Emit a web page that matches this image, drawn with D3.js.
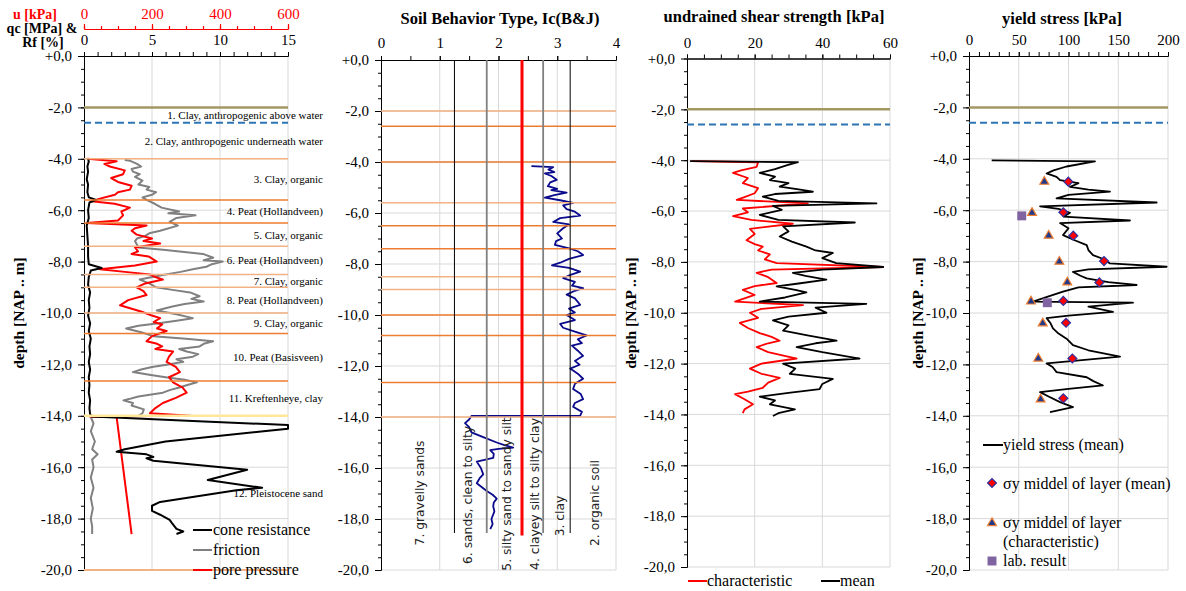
<!DOCTYPE html>
<html>
<head>
<meta charset="utf-8">
<script src="https://cdn.jsdelivr.net/npm/d3@7"></script>
<style>
  body { margin: 0; background: #fff; }
</style>
</head>
<body>
<svg id="chart" width="1186" height="591"></svg>
<script>
// ---- data (depth in m below NAP, value) ----
const layerBounds = [2.0, 2.6, 4.0, 5.6, 6.5, 7.4, 8.5, 9.0, 10.0, 10.8, 12.65, 14.0, 20.0];
const layerNames = [
  "1. Clay, anthropogenic above water",
  "2. Clay, anthropogenic  underneath water",
  "3. Clay, organic",
  "4. Peat (Hollandveen)",
  "5. Clay, organic",
  "6. Peat (Hollandveen)",
  "7. Clay, organic",
  "8. Peat (Hollandveen)",
  "9. Clay, organic",
  "10. Peat (Basisveen)",
  "11. Kreftenheye, clay",
  "12. Pleistocene sand"
];

// cone resistance qc [MPa]
const qcData = [[4.0,0.3],[4.1,0.35],[4.3,0.25],[4.5,0.3],[4.8,0.2],[5.0,0.3],[5.3,0.25],[5.5,0.35],[5.6,0.9],[5.7,0.4],
  [6.0,0.3],[6.3,0.35],[6.6,0.2],[7.0,0.25],[7.4,0.3],[7.8,0.3],[8.1,0.35],[8.25,1.3],[8.35,0.5],[8.6,0.35],[8.9,0.3],
  [9.2,0.45],[9.5,0.35],[9.8,0.4],[10.1,0.3],[10.4,0.45],[10.7,0.35],[11.0,0.5],[11.3,0.4],[11.6,0.45],[11.9,0.35],
  [12.2,0.45],[12.5,0.35],[12.8,0.4],[13.1,0.35],[13.4,0.45],[13.7,0.4],[13.95,0.45],[14.03,0.6],[14.2,8.0],[14.36,15],
  [14.5,15],[14.6,13.2],[15.0,6.0],[15.3,3.0],[15.4,2.4],[15.5,4.6],[15.6,5.1],[15.65,4.6],[15.75,5.1],[16.1,12.0],
  [16.5,9.1],[16.8,13.1],[16.9,11.2],[17.35,5.6],[17.5,5.0],[17.7,5.0],[17.85,5.6],[18.05,6.3],[18.2,6.5],[18.4,6.8],
  [18.5,7.3],[18.6,6.8]];

// friction ratio Rf [%]
const rfData = [[4.05,3.0],[4.08,3.4],[4.2,3.9],[4.3,4.2],[4.4,3.5],[4.5,3.6],[4.6,4.1],[4.7,3.75],[4.85,4.3],[5.0,4.0],
  [5.1,4.8],[5.2,4.6],[5.3,5.3],[5.4,5.0],[5.5,4.3],[5.6,4.6],[5.75,5.2],[5.9,5.7],[6.05,7.0],[6.12,6.2],[6.2,8.2],
  [6.3,6.8],[6.45,6.3],[6.6,6.9],[6.8,5.6],[6.9,4.8],[7.0,4.5],[7.1,3.9],[7.2,3.75],[7.45,4.0],[7.55,6.0],[7.7,8.75],
  [7.85,9.5],[7.95,8.8],[8.0,10.2],[8.1,9.4],[8.2,9.0],[8.3,8.0],[8.4,7.1],[8.55,5.5],[8.7,4.1],[8.85,4.8],[9.0,5.3],
  [9.1,6.5],[9.2,7.8],[9.35,8.5],[9.45,7.9],[9.55,8.8],[9.65,7.4],[9.75,6.5],[9.9,5.35],[10.05,6.8],[10.2,8.0],
  [10.3,6.8],[10.4,5.5],[10.5,4.0],[10.6,3.1],[10.75,4.2],[10.9,5.1],[11.0,7.5],[11.1,9.5],[11.2,8.8],[11.3,8.5],
  [11.4,7.0],[11.5,7.55],[11.6,8.4],[11.7,8.0],[11.8,6.8],[11.9,7.3],[12.0,6.2],[12.1,5.0],[12.2,4.2],[12.3,3.6],
  [12.4,4.8],[12.5,6.0],[12.6,7.4],[12.7,8.3],[12.8,7.6],[12.9,7.0],[13.0,6.3],[13.1,5.8],[13.2,4.6],[13.25,4.0],
  [13.35,3.3],[13.4,2.9],[13.5,3.6],[13.6,3.5],[13.75,4.4],[13.9,4.3],[14.0,4.0],[14.05,0.5],[14.3,0.7],[14.6,0.5],
  [15.0,0.8],[15.3,0.6],[15.5,1.0],[15.7,0.6],[16.0,0.7],[16.4,0.5],[16.8,0.7],[17.2,0.5],[17.6,0.65],[18.0,0.5],
  [18.3,0.6],[18.6,0.6]];

// pore pressure u [kPa]
const uData = [[4.0,10],[4.1,96],[4.2,60],[4.3,76],[4.45,120],[4.6,115],[4.75,80],[4.9,100],[5.05,140],[5.2,135],[5.3,100],
  [5.4,91],[5.55,47],[5.65,23],[5.75,90],[5.9,135],[6.05,110],[6.2,115],[6.4,100],[6.5,8],[6.6,184],[6.7,150],[6.8,140],
  [6.95,155],[7.1,200],[7.2,175],[7.3,224],[7.45,150],[7.6,159],[7.7,140],[7.8,190],[8.0,214],[8.15,150],[8.3,47],[8.4,120],
  [8.5,194],[8.6,210],[8.7,232],[8.85,180],[9.0,155],[9.15,175],[9.3,184],[9.5,130],[9.7,106],[9.95,170],[10.1,200],
  [10.2,224],[10.35,205],[10.45,230],[10.6,215],[10.7,243],[10.9,200],[11.1,184],[11.2,215],[11.3,230],[11.4,210],
  [11.5,262],[11.7,250],[11.9,243],[12.1,270],[12.3,282],[12.5,250],[12.7,262],[12.9,290],[13.1,302],[13.3,270],
  [13.5,232],[13.7,210],[13.9,194],[14.0,312],[14.03,18],[14.05,96],[18.6,140]];

// soil behaviour type index Ic
const icData = [[4.16,2.56],[4.2,2.93],[4.3,2.85],[4.4,2.95],[4.45,2.79],[4.55,2.9],[4.7,2.99],[4.8,2.88],[4.95,2.84],
  [5.05,3.0],[5.1,2.9],[5.2,3.16],[5.3,2.95],[5.4,2.79],[5.5,3.05],[5.6,3.27],[5.7,3.1],[5.85,3.16],[5.95,3.3],
  [6.1,3.39],[6.2,3.05],[6.35,2.93],[6.45,3.2],[6.6,3.1],[6.8,3.0],[7.0,3.08],[7.1,2.98],[7.25,2.96],[7.4,3.22],
  [7.5,3.35],[7.65,3.44],[7.8,3.2],[7.95,3.05],[8.05,2.91],[8.15,3.2],[8.3,3.39],[8.45,3.2],[8.55,3.1],[8.7,3.3],
  [8.85,3.25],[8.95,3.44],[9.05,3.3],[9.2,3.16],[9.35,3.3],[9.6,3.39],[9.75,3.2],[9.9,3.3],[10.0,3.16],[10.2,3.3],
  [10.35,3.05],[10.5,3.1],[10.65,3.3],[10.8,3.5],[10.95,3.35],[11.1,3.42],[11.2,3.25],[11.4,3.35],[11.6,3.44],
  [11.8,3.3],[11.95,3.38],[12.1,3.22],[12.3,3.35],[12.5,3.44],[12.7,3.3],[12.9,3.27],[13.1,3.4],[13.3,3.44],
  [13.45,3.3],[13.6,3.27],[13.8,3.42],[13.95,3.39],[13.96,1.54],[14.1,1.5],[14.24,1.43],[14.4,1.5],[14.6,1.54],
  [14.8,1.75],[15.0,1.97],[15.1,2.1],[15.2,2.25],[15.25,2.0],[15.3,1.86],[15.45,1.92],[15.6,1.91],[15.75,1.63],
  [16.0,1.7],[16.25,1.74],[16.4,1.68],[16.6,1.63],[16.9,1.8],[17.05,1.9],[17.2,1.97],[17.35,1.92],[17.5,1.91],
  [17.7,1.93],[18.0,1.88],[18.2,1.9],[18.4,1.86]];
const icBounds = [1.25, 1.80, 2.40, 2.76, 3.22];
const icZones = ["7. gravelly sands", "6. sands, clean to silty", "5. silty sand to sandy silt",
  "4. clayey silt to silty clay", "3. clay", "2. organic soil"];

// undrained shear strength [kPa]
const suMean = [[4.04,0.9],[4.08,32.8],[4.2,29.4],[4.35,26],[4.5,21.5],[4.65,26],[4.78,24.5],[4.9,30],[5.04,27.4],
  [5.15,33],[5.24,37.2],[5.33,26],[5.43,22.4],[5.6,27],[5.7,56],[5.8,25.4],[5.95,28],[6.15,21.5],[6.35,27],[6.45,49.6],
  [6.6,28.4],[6.8,30],[7.0,27.4],[7.2,31],[7.4,35.3],[7.55,38],[7.65,43.1],[7.85,40],[8.05,44.1],[8.2,58],[8.3,40],
  [8.43,31.3],[8.55,35],[8.7,41.2],[8.85,33],[8.96,26.5],[9.1,32],[9.2,35.3],[9.4,29],[9.56,21.5],[9.65,53],
  [9.8,38],[10.0,41.2],[10.15,30],[10.3,25.4],[10.5,30],[10.7,28.4],[10.9,36],[11.1,44.2],[11.2,38],[11.35,32.4],
  [11.55,40],[11.8,51],[12.0,28.4],[12.2,32],[12.4,30.4],[12.6,43.1],[12.8,40],[13.0,39.2],[13.15,30],[13.3,21.5],
  [13.45,26],[13.6,24.5],[13.8,31.9],[13.95,27],[14.06,25.4]];
const suChar = [[4.04,1.4],[4.08,21],[4.26,20.6],[4.4,16],[4.5,13.6],[4.7,18],[4.9,16.5],[5.1,21],[5.3,20],
  [5.45,17],[5.56,14.7],[5.7,35.7],[5.9,16.5],[6.05,18],[6.2,13.6],[6.35,19],[6.5,31.3],[6.7,18.6],[6.9,20],
  [7.15,17.6],[7.3,20],[7.4,22.4],[7.55,21],[7.7,24.5],[7.9,23],[8.05,26.5],[8.2,58],[8.3,25],[8.43,20.6],
  [8.6,24],[8.83,26.5],[8.95,20],[9.1,16.5],[9.3,20],[9.56,14.2],[9.7,34.3],[9.85,22],[10.0,18.6],[10.2,21],
  [10.4,15.6],[10.6,18],[10.8,21.5],[10.95,25],[11.1,27.4],[11.2,24],[11.35,20.6],[11.55,24],[11.8,32.4],
  [12.0,22],[12.2,18.6],[12.4,22],[12.56,27.4],[12.75,24],[12.95,22.4],[13.1,18],[13.2,14.2],[13.4,17],
  [13.6,19.5],[13.8,17],[13.95,16.5]];

// yield stress [kPa]
const ysMean = [[4.06,22.8],[4.1,126.6],[4.3,98],[4.45,85],[4.57,78],[4.7,88],[4.83,91.5],[4.95,110],[5.09,101.5],
  [5.2,120],[5.28,141.7],[5.4,100],[5.54,88],[5.7,188.6],[5.85,71.4],[5.95,90],[6.1,101.5],[6.25,95],[6.4,161.8],
  [6.5,91.5],[6.7,100],[6.97,94.5],[7.15,105],[7.36,118.3],[7.55,120],[7.75,124.6],[7.9,135],[8.07,141.7],
  [8.2,198.7],[8.3,120],[8.4,104.5],[8.55,112],[8.65,118.3],[8.8,140],[8.91,168.5],[9.0,110],[9.17,94.5],
  [9.35,80],[9.56,64.3],[9.6,164.8],[9.75,120],[9.96,144.7],[10.1,100],[10.2,78],[10.4,82],[10.6,84.4],
  [10.8,90],[11.0,98],[11.25,104.5],[11.45,120],[11.7,151.8],[11.96,78],[12.1,84],[12.3,88],[12.5,118.3],
  [12.65,125],[12.82,134.6],[12.95,100],[13.08,71.4],[13.25,80],[13.47,91.5],[13.66,104.5],[13.86,81.4]];
const ysLayerMean = [[4.89,99.8],[6.08,94.8],[6.99,104.8],[7.98,135.7],[8.81,131],[9.53,94.8],[10.38,97.5],
  [11.77,103.9],[13.32,94.8]];
const ysLayerChar = [[4.89,75.7],[6.1,63.3],[6.99,80.1],[8.0,90.8],[8.81,98.8],[9.55,62.3],[10.4,74.1],
  [11.77,69.6],[13.36,72]];
const labResult = [[6.22,53],[9.6,78.7]];

// ---- drawing ----
const svg = d3.select("#chart");
const SERIF = "Liberation Serif, Times New Roman, serif";
const SANS = "DejaVu Sans, Verdana, sans-serif";
const ORANGE = "#ED7D31", LORANGE = "#F4B183", YELLOW = "#FFE699", OLIVE = "#A39863", BLUE = "#2E75B6";
const GRID = "#D9D9D9";

const fmtDepth = d => d === 0 ? "+0,0" : d3.format(".1f")(d).replace(".", ",").replace("\u2212", "-");

function txt(x, y, s, size, opts = {}) {
  return svg.append("text").attr("x", x).attr("y", y)
    .attr("font-family", opts.family || SERIF).attr("font-size", size)
    .attr("font-weight", opts.bold ? "bold" : null)
    .attr("text-anchor", opts.anchor || "start")
    .attr("fill", opts.fill || "#000").text(s);
}

function makePanel(cfg) {
  const x = d3.scaleLinear().domain(cfg.xDomain).range(cfg.xRange);
  const y = d3.scaleLinear().domain([0, -20]).range(cfg.yRange);
  const g = svg.append("g");

  const clipId = "clip" + cfg.id;
  svg.append("clipPath").attr("id", clipId).append("rect")
    .attr("x", cfg.xRange[0]).attr("y", cfg.yRange[0])
    .attr("width", cfg.xRange[1] - cfg.xRange[0] + 1)
    .attr("height", cfg.yRange[1] - cfg.yRange[0]);

  // gridlines
  g.selectAll(".vg").data(cfg.xMajor.slice(1)).join("line")
    .attr("x1", d => x(d)).attr("x2", d => x(d))
    .attr("y1", cfg.yRange[0]).attr("y2", cfg.yRange[1])
    .attr("stroke", GRID).attr("stroke-width", 1);
  g.selectAll(".hg").data(d3.range(-2, -20.01, -2)).join("line")
    .attr("x1", cfg.xRange[0]).attr("x2", cfg.xRange[1])
    .attr("y1", d => y(d)).attr("y2", d => y(d))
    .attr("stroke", GRID).attr("stroke-width", 1);

  const data = g.append("g").attr("clip-path", `url(#${clipId})`);

  // axes
  const yMinor = g.append("g").attr("transform", `translate(${cfg.xRange[0]},0)`)
    .call(d3.axisLeft(y).tickValues(d3.range(0, -20.01, -0.5)).tickSize(3).tickSizeOuter(0).tickFormat(""));
  const yAx = g.append("g").attr("transform", `translate(${cfg.xRange[0]},0)`)
    .call(d3.axisLeft(y).tickValues(d3.range(0, -20.01, -2)).tickSize(6).tickSizeOuter(0).tickPadding(6).tickFormat(fmtDepth));
  const xMinor = g.append("g").attr("transform", `translate(0,${cfg.yRange[0]})`)
    .call(d3.axisTop(x).tickValues(cfg.xMinor).tickSize(4).tickSizeOuter(0).tickFormat(""));
  const xAx = g.append("g").attr("transform", `translate(0,${cfg.yRange[0]})`)
    .call(d3.axisTop(x).tickValues(cfg.xMajor).tickSize(4).tickSizeOuter(0).tickPadding(cfg.xPad || 7)
      .tickFormat(d3.format("d")));
  [yMinor, yAx, xMinor, xAx].forEach(a => {
    a.attr("font-family", SERIF).attr("font-size", 15);
    a.selectAll("path,line").attr("stroke", "#000").attr("stroke-width", 1);
    a.selectAll("text").attr("fill", "#000");
  });
  xAx.selectAll("text").attr("dy", 0);

  if (cfg.title) txt(cfg.titleX, cfg.titleY, cfg.title, 16.5, { bold: true, anchor: "middle" });
  if (cfg.depthLabelX) {
    svg.append("text")
      .attr("transform", `translate(${cfg.depthLabelX},313) rotate(-90)`)
      .attr("text-anchor", "middle").attr("font-weight", "bold").attr("font-size", 15.5)
      .attr("font-family", SERIF).text("depth [NAP .. m]");
  }
  return { x, y, g, data };
}

function boundaryLines(p, list) {
  list.forEach(b => {
    const l = p.g.append("line")
      .attr("x1", p.x.range()[0]).attr("x2", p.x.range()[1])
      .attr("y1", p.y(-b.d)).attr("y2", p.y(-b.d))
      .attr("stroke", b.c).attr("stroke-width", b.w || 1.5);
    if (b.dash) l.attr("stroke-dasharray", b.dash);
  });
}

const lineOf = (p, xs) => d3.line().x(d => (xs || p.x)(d[1])).y(d => p.y(-d[0]));

function drawSeries(p, arr, color, width, xs) {
  p.data.append("path").datum(arr)
    .attr("d", lineOf(p, xs))
    .attr("fill", "none").attr("stroke", color).attr("stroke-width", width)
    .attr("stroke-linejoin", "round");
}

// ---------- panel 1 : CPT ----------
const p1 = makePanel({
  id: 1, xDomain: [0, 15], xRange: [84, 288], yRange: [56, 570],
  xMajor: [0, 5, 10, 15], xMinor: d3.range(0, 15.01, 1), xPad: 7, depthLabelX: 24
});
const uScale = d3.scaleLinear().domain([0, 600]).range([84, 288]);
const uAx = svg.append("g").attr("transform", "translate(0,29)")
  .call(d3.axisTop(uScale).tickValues([0, 200, 400, 600]).tickSize(5).tickSizeOuter(0).tickPadding(5));
const uMinor = svg.append("g").attr("transform", "translate(0,29)")
  .call(d3.axisTop(uScale).tickValues(d3.range(0, 600.1, 50)).tickSize(3).tickSizeOuter(0).tickFormat(""));
[uAx, uMinor].forEach(a => {
  a.attr("font-family", SERIF).attr("font-size", 15);
  a.selectAll("path,line").attr("stroke", "#FF0000").attr("stroke-width", 1.2);
  a.selectAll("text").attr("fill", "#FF0000");
});
txt(35, 19, "u [kPa]", 14, { bold: true, anchor: "middle", fill: "#FF0000" });
txt(42, 33, "qc [MPa] &", 14, { bold: true, anchor: "middle" });
txt(43, 47, "Rf [%]", 14, { bold: true, anchor: "middle" });

const p1Styles = [
  { c: OLIVE, w: 2.5 }, { c: BLUE, w: 2, dash: "7,4" }, { c: LORANGE }, { c: ORANGE }, { c: ORANGE },
  { c: LORANGE }, { c: LORANGE }, { c: LORANGE }, { c: LORANGE }, { c: ORANGE }, { c: ORANGE },
  { c: YELLOW, w: 2.5 }, { c: LORANGE, w: 2 }
];
boundaryLines(p1, layerBounds.map((d, i) => Object.assign({ d }, p1Styles[i])));

drawSeries(p1, rfData, "#808080", 2);
drawSeries(p1, uData, "#FF0000", 2, uScale);
drawSeries(p1, qcData, "#000000", 2);

// layer names at mid-depth of each layer
layerNames.forEach((name, i) => {
  const mid = (layerBounds[i] + layerBounds[i + 1]) / 2;
  txt(323, p1.y(-mid) + 4, name, 11, { anchor: "end" });
});

const p1Legend = [["cone resistance", "#000000"], ["friction", "#808080"], ["pore pressure", "#FF0000"]];
p1Legend.forEach(([name, c], i) => {
  const yy = 530 + i * 20;
  svg.append("line").attr("x1", 193).attr("x2", 212).attr("y1", yy).attr("y2", yy)
    .attr("stroke", c).attr("stroke-width", 2);
  txt(213, yy + 5, name, 16);
});

// ---------- panel 2 : Ic ----------
const p2 = makePanel({
  id: 2, xDomain: [0, 4], xRange: [381, 616], yRange: [60, 570],
  xMajor: [0, 1, 2, 3, 4], xMinor: d3.range(0, 4.01, 0.5), xPad: 8,
  title: "Soil Behavior Type, Ic(B&J)", titleX: 500, titleY: 24
});
boundaryLines(p2, layerBounds.slice(0, -1).map((d, i) => ({
  d, c: [0, 3, 6, 7, 11].includes(i) ? LORANGE : ORANGE, w: 1.5
})));
const icStyle = [{ c: "#000", w: 1 }, { c: "#808080", w: 1.8 }, { c: "#FF0000", w: 3 },
  { c: "#808080", w: 1.8 }, { c: "#000", w: 1 }];
icBounds.forEach((b, i) => {
  p2.g.append("line").attr("x1", p2.x(b)).attr("x2", p2.x(b))
    .attr("y1", p2.y(0)).attr("y2", p2.y(i === 2 ? -18.65 : -18.55))
    .attr("stroke", icStyle[i].c).attr("stroke-width", icStyle[i].w);
});
drawSeries(p2, icData, "#0A0A8C", 1.8);

const zoneX = [420, 468, 507, 535, 560, 595];
const zoneY = [493, 495, 494, 494, 516, 503];
icZones.forEach((z, i) => {
  svg.append("text")
    .attr("transform", `translate(${zoneX[i] + 4},${zoneY[i]}) rotate(-90)`)
    .attr("text-anchor", "middle").attr("font-size", 12.3)
    .attr("font-family", SANS).attr("fill", "#222").text(z);
});

// ---------- panel 3 : su ----------
const p3 = makePanel({
  id: 3, xDomain: [0, 60], xRange: [687, 890], yRange: [58.5, 567],
  xMajor: [0, 20, 40, 60], xMinor: d3.range(0, 60.1, 5), xPad: 7,
  title: "undrained shear strength [kPa]", titleX: 774, titleY: 22, depthLabelX: 636
});
boundaryLines(p3, [{ d: layerBounds[0], c: OLIVE, w: 2.5 }, { d: layerBounds[1], c: BLUE, w: 2, dash: "7,4" }]);
drawSeries(p3, suChar, "#FF0000", 1.8);
drawSeries(p3, suMean, "#000000", 1.8);
[["characteristic", "#FF0000", 688], ["mean", "#000000", 821]].forEach(([name, c, lx]) => {
  svg.append("line").attr("x1", lx).attr("x2", lx + 19).attr("y1", 581).attr("y2", 581)
    .attr("stroke", c).attr("stroke-width", 2);
  txt(lx + 19, 586, name, 16);
});

// ---------- panel 4 : yield stress ----------
const p4 = makePanel({
  id: 4, xDomain: [0, 200], xRange: [969, 1168], yRange: [56, 570],
  xMajor: [0, 50, 100, 150, 200], xMinor: d3.range(0, 200.1, 10), xPad: 7,
  title: "yield stress [kPa]", titleX: 1062, titleY: 24, depthLabelX: 923
});
boundaryLines(p4, [{ d: layerBounds[0], c: OLIVE, w: 2.5 }, { d: layerBounds[1], c: BLUE, w: 2, dash: "7,4" }]);
drawSeries(p4, ysMean, "#000000", 1.8);

const diamond = d3.symbol().type(d3.symbolSquare).size(40);
const triangle = d3.symbol().type(d3.symbolTriangle).size(34);
const square = d3.symbol().type(d3.symbolSquare).size(80);
const markTri = sel => sel.attr("d", triangle).attr("fill", "#1F3A8C").attr("stroke", ORANGE).attr("stroke-width", 1.2);
const markDia = sel => sel.attr("d", diamond).attr("fill", "#FF0000").attr("stroke", "#3030A0").attr("stroke-width", 1.2);
p4.g.selectAll(".ych").data(ysLayerChar).join("path")
  .attr("transform", d => `translate(${p4.x(d[1])},${p4.y(-d[0])})`).call(markTri);
p4.g.selectAll(".ymn").data(ysLayerMean).join("path")
  .attr("transform", d => `translate(${p4.x(d[1])},${p4.y(-d[0])}) rotate(45)`).call(markDia);
p4.g.selectAll(".lab").data(labResult).join("path")
  .attr("transform", d => `translate(${p4.x(d[1])},${p4.y(-d[0])})`)
  .attr("d", square).attr("fill", "#8064A2");

// legend
svg.append("line").attr("x1", 983).attr("x2", 1003).attr("y1", 445).attr("y2", 445)
  .attr("stroke", "#000").attr("stroke-width", 2);
txt(1003, 450, "yield stress (mean)", 16);
svg.append("path").attr("transform", "translate(992,483) rotate(45)").call(markDia);
txt(1003, 489, "\u03C3y middel of layer (mean)", 16);
svg.append("path").attr("transform", "translate(992,523)").call(markTri);
txt(1003, 528, "\u03C3y middel of layer", 16);
txt(1003, 547, "(characteristic)", 16);
svg.append("path").attr("transform", "translate(992,561)").attr("d", square).attr("fill", "#8064A2");
txt(1003, 566, "lab. result", 16);
</script>
</body>
</html>
